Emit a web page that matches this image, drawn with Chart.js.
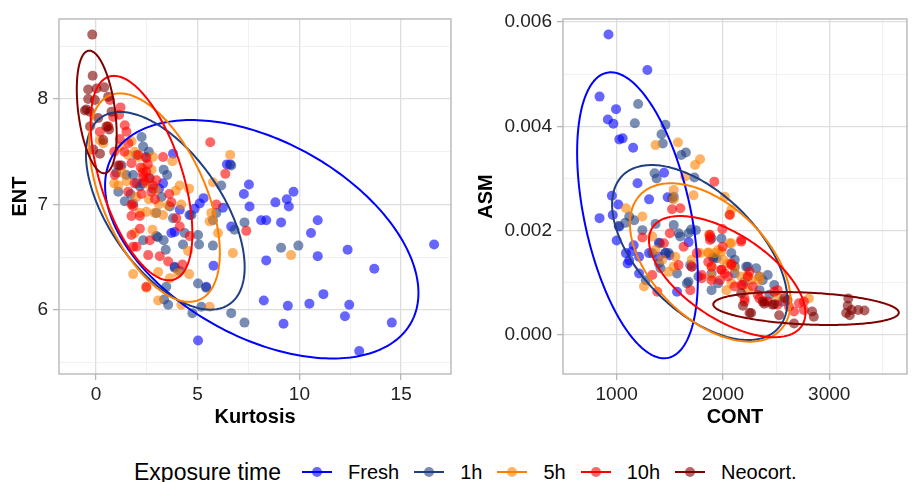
<!DOCTYPE html>
<html>
<head>
<meta charset="utf-8">
<script src="https://cdn.jsdelivr.net/npm/chart.js@4/dist/chart.umd.min.js"></script>
<style>
html, body { margin: 0; padding: 0; background: #fff; width: 912px; height: 482px; overflow: hidden; }
#c1 { position: absolute; left: 0; top: 0; }
#c2 { position: absolute; left: 456px; top: 0; }
#legend { position: absolute; left: 134px; top: 457px; height: 30px; display: flex; align-items: center;
  font-family: "Liberation Sans", Arial, Helvetica, sans-serif; color: #000; white-space: nowrap; }
#legend .title { font-size: 23px; margin-right: 21px; }
#legend .key { position: relative; width: 30px; height: 10px; margin-right: 16px; }
#legend .key .ln { position: absolute; left: 0; top: 4px; width: 30px; height: 2px; }
#legend .key .pt { position: absolute; left: 10px; top: 0; width: 10px; height: 10px; border-radius: 50%; }
#legend .lab { font-size: 20px; margin-right: 15px; }
</style>
</head>
<body>
<canvas id="c1" width="456" height="440"></canvas>
<canvas id="c2" width="456" height="440"></canvas>
<div id="legend"></div>
<script>
// ---------------- data ----------------
const groups = ['Fresh', '1h', '5h', '10h', 'Neocort.'];
const groupColors = ['#0000FF', '#203F82', '#FF8000', '#FF0000', '#800000'];
const legendTitle = 'Exposure time';

// Left panel: Kurtosis (x) vs ENT (y)
const kurtEntFresh = [[16.62,6.62],[13.68,6.39],[14.54,5.88],[12.94,5.61],[12.45,6.05],[12.24,5.94],[12.37,6.57],[11.18,6.15],[10.9,6.85],[10.9,6.51],[10.57,6.73],[10.49,6.06],[9.71,7.12],[9.38,7.05],[9.48,6.98],[8.82,7.02],[9.1,6.83],[9.43,6.04],[9.22,5.87],[8.37,6.85],[8.12,6.85],[8.37,6.47],[8.25,6.09],[7.52,7.19],[7.27,7.1],[7.55,6.98],[6.65,6.79],[6.44,7.38],[6.24,6.97],[5.78,6.42],[5.02,5.71],[5.42,6.22],[5.29,7.06],[5.1,7.01],[4.85,6.96],[3.79,7.48],[3.87,6.74],[3.71,6.73],[3.87,6.41],[3.3,7.2],[2.3,7.2],[4.12,6.95],[6.6,7.38],[3.1,7.15],[4.6,6.9]];
const kurtEnt1h = [[7.3,5.88],[6.65,5.97],[7.3,6.83],[6.81,6.76],[6.65,7.37],[9.1,6.59],[9.95,6.61],[5.75,6.61],[5.75,6.85],[5.92,6.92],[5.02,6.71],[5.07,6.62],[5.02,6.25],[5.18,6.03],[4.74,5.97],[4.28,6.62],[4.36,6.73],[3.87,6.4],[3.55,6.05],[3.35,6.1],[3.46,6.22],[3.43,6.57],[3.33,6.66],[2.97,6.7],[3.22,7.07],[3.5,7.28],[3.33,7.33],[2.65,7.25],[2.32,7.55],[2.24,7.64],[2.45,7.45],[1.99,7.47],[1.83,7.28],[1.5,7.28],[1.26,7.37],[1.42,7.03],[1.1,7.12],[1.83,7.01],[2.16,7.17],[2.32,6.66],[2.97,6.92],[3.63,6.98],[3.79,6.87],[6.16,7.18],[5.42,6.21],[4.12,6.37],[3.04,6.69],[4.69,6.9],[1.0,7.3],[2.0,7.2],[2.8,7.15],[1.7,7.1],[2.6,7.5]];
const kurtEnt5h = [[6.73,6.54],[6.6,7.47],[9.59,6.52],[5.59,6.03],[4.2,6.05],[3.06,6.09],[1.83,6.34],[2.48,6.21],[4.58,6.34],[4.04,6.35],[4.53,6.56],[6.0,6.73],[5.59,6.84],[5.75,7.21],[5.67,6.92],[4.58,7.15],[4.12,7.18],[4.2,7.0],[3.92,7.13],[3.76,7.41],[3.3,6.9],[2.89,6.92],[2.48,6.93],[2.16,6.92],[1.91,6.73],[1.5,7.22],[1.1,7.18],[1.58,7.47],[2.32,7.34],[2.73,7.33],[1.99,7.07],[2.97,7.14],[0.36,7.58],[0.6,7.74],[0.2,7.61],[1.75,7.6],[1.18,7.55],[2.48,7.2],[3.06,6.36],[3.63,6.3],[2.78,6.76],[3.55,6.99],[2.1,7.45],[1.9,7.5],[2.6,7.05],[3.1,7.0],[1.3,7.3],[2.8,7.45],[0.9,7.2]];
const kurtEnt10h = [[5.62,7.59],[6.36,7.29],[7.39,6.75],[5.92,7.0],[4.61,6.7],[4.25,6.43],[4.12,6.79],[3.71,7.02],[3.95,6.87],[3.55,6.46],[3.14,6.51],[2.57,6.52],[2.48,6.22],[1.99,6.6],[1.75,6.71],[2.16,6.77],[2.65,6.66],[1.83,6.6],[1.75,7.0],[1.58,7.12],[1.83,6.98],[2.32,7.26],[2.48,7.31],[2.4,7.22],[2.24,7.1],[2.73,7.12],[2.81,7.18],[2.48,7.44],[2.08,7.47],[3.3,7.45],[1.75,7.39],[1.18,7.37],[0.93,7.28],[1.18,7.62],[1.42,7.75],[1.5,7.69],[1.21,7.92],[1.14,7.85],[0.85,7.83],[0.6,7.74],[0.2,7.69],[2.16,6.89],[1.75,6.89],[2.97,7.23],[0.69,7.99],[2.3,7.3],[2.6,7.25],[2.2,7.35],[2.55,7.38],[1.9,7.2],[2.9,7.05],[3.6,7.1],[1.4,7.5],[1.6,7.58],[0.9,7.5]];
const kurtEntNeo = [[-0.18,8.61],[-0.16,8.22],[-0.38,8.09],[0.03,8.1],[0.41,8.11],[0.6,8.02],[-0.05,7.99],[-0.46,7.9],[-0.29,7.88],[0.11,7.82],[0.52,7.74],[0.65,7.71],[-0.29,7.74],[0.2,7.48],[-0.13,7.52],[0.36,7.61],[0.77,7.88],[1.09,7.37],[-0.38,8.0],[-0.54,7.89]];

// Right panel: CONT (x) vs ASM (y)
const contAsmFresh = [[923,0.00576],[839,0.00457],[917,0.00413],[994,0.00433],[969,0.00405],[1025,0.00375],[1056,0.00377],[1155,0.00359],[1196,0.00291],[1305,0.0026],[955,0.00267],[1015,0.0025],[963,0.0023],[839,0.00224],[1025,0.00208],[1000,0.00181],[1087,0.00157],[1143,0.0016],[1103,0.00137],[1118,0.00143],[1211,0.00118],[1211,0.0015],[1160,0.00172],[1397,0.00177],[1459,0.00157],[1568,0.00083],[1676,0.00178],[1289,0.00508],[1397,0.0015],[1480,0.00264],[1305,0.00157],[1446,0.00311],[1497,0.00153]];
const contAsm1h = [[1202,0.00443],[1171,0.00406],[1459,0.00403],[1422,0.00385],[1434,0.00367],[1608,0.00345],[1651,0.0035],[1732,0.00302],[1357,0.0031],[1376,0.003],[1537,0.00265],[1165,0.0022],[1118,0.00227],[1242,0.00201],[1366,0.00213],[1583,0.00195],[1676,0.00195],[1745,0.00201],[1598,0.00189],[1407,0.00176],[1490,0.00157],[1397,0.00137],[1413,0.00128],[1707,0.00131],[1676,0.00102],[1893,0.00185],[1986,0.00185],[2079,0.00157],[2219,0.00131],[2313,0.00128],[2421,0.00115],[2437,0.00077],[2344,0.00086],[2110,0.00118],[1955,0.00099],[1893,0.00086],[1274,0.00105],[1769,0.00112],[1568,0.00118],[1893,0.00118],[2203,0.00102],[2483,0.00096],[2374,0.00105],[1521,0.00262],[1081,0.00215],[1019,0.00209],[1537,0.00211],[1701,0.00202],[1335,0.00157],[1460,0.00157],[1692,0.00134],[1661,0.00099],[1909,0.0015],[2111,0.00131],[2234,0.00131],[1940,0.00147],[2560,0.00064],[1909,0.00147],[2111,0.00144],[2343,0.00112]];
const contAsm5h = [[1366,0.00364],[1577,0.00369],[1738,0.00326],[1785,0.00337],[1645,0.00304],[1537,0.00278],[1537,0.0026],[1723,0.00268],[1087,0.00243],[1242,0.00227],[2018,0.00265],[2079,0.0024],[1869,0.00192],[2079,0.00176],[1986,0.0016],[2002,0.00144],[1893,0.00131],[1707,0.00144],[1552,0.0015],[1366,0.00163],[1335,0.00189],[1257,0.00093],[2079,0.00099],[2172,0.00112],[2234,0.00086],[2265,0.00105],[2344,0.00112],[2514,0.00074],[2808,0.0007],[1428,0.00144],[1537,0.00131],[1785,0.00157],[1924,0.00157],[2048,0.00137],[2110,0.00128],[1893,0.00112],[1490,0.00121],[1862,0.00158],[2064,0.00231],[2064,0.00176],[1955,0.00163],[1862,0.00157],[2343,0.00105],[2234,0.00112],[2033,0.00086],[2607,0.00067]];
const contAsm10h = [[1919,0.00294],[1995,0.00203],[2064,0.0023],[1521,0.00241],[1599,0.00243],[1500,0.00195],[1242,0.00187],[1754,0.00157],[1878,0.00182],[1998,0.00169],[2172,0.00182],[2079,0.00137],[1986,0.00125],[1893,0.00105],[1693,0.00086],[1382,0.00083],[1335,0.00115],[1583,0.00134],[1707,0.00131],[1893,0.00131],[2048,0.00112],[2172,0.00096],[2281,0.00093],[2421,0.00064],[2514,0.00058],[2607,0.00067],[2669,0.00045],[2762,0.00048],[2762,0.00064],[2514,0.00086],[2234,0.00112],[2110,0.00093],[2203,0.00064],[2344,0.0007],[1630,0.00169],[1444,0.00176],[1800,0.00115],[2017,0.00118],[1878,0.00188],[1878,0.00192],[2172,0.00179],[1862,0.0014],[1986,0.00125],[1971,0.00105],[2079,0.00134],[2250,0.00121],[2188,0.00096],[2327,0.00077],[2390,0.00064],[2483,0.00083],[2622,0.00054],[2715,0.00061],[1800,0.00109],[2204,0.0007]];
const contAsmNeo = [[3180,0.0007],[3174,0.00056],[3211,0.00048],[3273,0.00048],[3332,0.00047],[3193,0.00038],[2839,0.00045],[2855,0.00035],[2669,0.00022],[2529,0.00038],[2483,0.00059],[2374,0.00064],[2250,0.00042],[2188,0.00056],[2579,0.00071],[2467,0.00058],[2390,0.0006],[2265,0.00042],[2172,0.0008],[3160,0.00042]];

// 95% ellipses per group (centre, half-range on each axis, correlation)
const kurtEntEllCx   = [8.15, 3.41, 2.88, 2.24, 0.04];
const kurtEntEllRx   = [7.7, 3.90, 3.21, 2.50, 0.98];
const kurtEntEllCy   = [6.67, 6.94, 7.065, 7.25, 7.877];
const kurtEntEllRy   = [1.13, 0.937, 0.988, 0.969, 0.581];
const kurtEntEllCorr = [-0.45, -0.57, -0.53, -0.54, -0.37];

const contAsmEllCx   = [1196, 1782, 1881, 2040, 2782];
const contAsmEllRx   = [568, 825, 756, 736, 873];
const contAsmEllCy   = [0.002295, 0.001581, 0.00139, 0.001119, 0.000508];
const contAsmEllRy   = [0.002741, 0.001677, 0.001518, 0.001162, 0.000316];
const contAsmEllCorr = [-0.44, -0.55, -0.49, -0.60, -0.25];

// axis ticks
const kurtMajor = [0, 5, 10, 15];
const kurtMinor = [2.5, 7.5, 12.5];
const entMajor = [6, 7, 8];
const entMinor = [5.5, 6.5, 7.5, 8.5];
const contMajor = [1000, 2000, 3000];
const contMinor = [1500, 2500, 3500];
const asmMajor = [0, 0.002, 0.004, 0.006];
const asmMinor = [0.001, 0.003, 0.005];

// ---------------- drawing ----------------
const FONT = '"Liberation Sans", Arial, Helvetica, sans-serif';
const ALPHA = 0.6;
function rgba(hex, a) {
  const n = parseInt(hex.slice(1), 16);
  return 'rgba(' + ((n >> 16) & 255) + ',' + ((n >> 8) & 255) + ',' + (n & 255) + ',' + a + ')';
}

const framePlugin = {
  id: 'frame',
  afterDatasetsDraw(chart, args, opts) {
    const ctx = chart.ctx, xs = chart.scales.x, ys = chart.scales.y, a = chart.chartArea;
    ctx.save();
    ctx.beginPath();
    ctx.rect(a.left, a.top, a.right - a.left, a.bottom - a.top);
    ctx.clip();
    ctx.lineWidth = 2;
    ctx.lineJoin = 'round';
    const e = opts.ellipses;
    for (let g = 0; g < e.cx.length; g++) {
      const c = e.corr[g], s = Math.sqrt(1 - c * c);
      ctx.beginPath();
      const N = 240;
      for (let i = 0; i <= N; i++) {
        const t = 2 * Math.PI * i / N;
        const vx = e.cx[g] + e.rx[g] * Math.cos(t);
        const vy = e.cy[g] + e.ry[g] * (c * Math.cos(t) + s * Math.sin(t));
        const px = xs.getPixelForValue(vx), py = ys.getPixelForValue(vy);
        if (i === 0) ctx.moveTo(px, py); else ctx.lineTo(px, py);
      }
      ctx.closePath();
      ctx.strokeStyle = groupColors[g];
      ctx.stroke();
    }
    ctx.restore();
  },
  afterDraw(chart) {
    const ctx = chart.ctx, a = chart.chartArea;
    ctx.save();
    ctx.strokeStyle = '#b3b3b3';
    ctx.lineWidth = 1.3;
    ctx.strokeRect(a.left, a.top, a.right - a.left, a.bottom - a.top);
    ctx.restore();
  }
};

function axis(opts) {
  const all = opts.major.concat(opts.minor).sort((p, q) => p - q);
  const isMajor = v => opts.major.indexOf(v) >= 0;
  return {
    type: 'linear',
    position: opts.position,
    min: opts.min, max: opts.max,
    afterBuildTicks: s => { s.ticks = all.map(v => ({ value: v })); },
    afterFit: s => { if (opts.width) s.width = opts.width; if (opts.height) s.height = opts.height; },
    ticks: {
      autoSkip: false, maxRotation: 0, minRotation: 0,
      padding: opts.tickPad,
      color: '#222',
      font: { family: FONT, size: 19 },
      callback: v => isMajor(v) ? opts.fmt(v) : ''
    },
    grid: {
      drawTicks: true, tickLength: 6, tickWidth: 1.2,
      color: ctx => (ctx.tick && isMajor(ctx.tick.value)) ? '#dedede' : '#ebebeb',
      lineWidth: ctx => (ctx.tick && isMajor(ctx.tick.value)) ? 1.3 : 0.7,
      tickColor: ctx => (ctx.tick && isMajor(ctx.tick.value)) ? '#b3b3b3' : 'rgba(0,0,0,0)'
    },
    border: { display: false },
    title: {
      display: true, text: opts.title, color: '#000',
      font: { family: FONT, size: 20, weight: 'bold' },
      padding: opts.titlePad
    }
  };
}

function makeChart(id, sets, ell, xOpts, yOpts, padRight) {
  return new Chart(document.getElementById(id), {
    type: 'scatter',
    data: {
      datasets: sets.map((pts, g) => ({
        label: groups[g],
        data: pts.map(p => ({ x: p[0], y: p[1] })),
        backgroundColor: rgba(groupColors[g], ALPHA),
        borderWidth: 0,
        pointRadius: 5,
        pointHoverRadius: 5,
        order: sets.length - g
      }))
    },
    options: {
      responsive: false,
      animation: false,
      events: [],
      layout: { padding: { top: 19, right: padRight, left: 0, bottom: 0 } },
      plugins: {
        legend: { display: false },
        tooltip: { enabled: false },
        frame: { ellipses: ell }
      },
      scales: { x: axis(xOpts), y: axis(yOpts) }
    },
    plugins: [framePlugin]
  });
}

makeChart('c1',
  [kurtEntFresh, kurtEnt1h, kurtEnt5h, kurtEnt10h, kurtEntNeo],
  { cx: kurtEntEllCx, rx: kurtEntEllRx, cy: kurtEntEllCy, ry: kurtEntEllRy, corr: kurtEntEllCorr },
  { position: 'bottom', min: -1.814, max: 17.45, major: kurtMajor, minor: kurtMinor, fmt: v => String(v),
    title: 'Kurtosis', height: 66, tickPad: 3, titlePad: { top: 0, bottom: 11 } },
  { position: 'left', min: 5.393, max: 8.758, major: entMajor, minor: entMinor, fmt: v => String(v),
    title: 'ENT', width: 59, tickPad: 5, titlePad: { top: 8, bottom: 0 } },
  4);

makeChart('c2',
  [contAsmFresh, contAsm1h, contAsm5h, contAsm10h, contAsmNeo],
  { cx: contAsmEllCx, rx: contAsmEllRx, cy: contAsmEllCy, ry: contAsmEllRy, corr: contAsmEllCorr },
  { position: 'bottom', min: 495, max: 3732, major: contMajor, minor: contMinor, fmt: v => String(v),
    title: 'CONT', height: 66, tickPad: 3, titlePad: { top: 0, bottom: 11 } },
  { position: 'left', min: -0.000748, max: 0.006058, major: asmMajor, minor: asmMinor, fmt: v => v.toFixed(3),
    title: 'ASM', width: 107, tickPad: 5, titlePad: { top: 18, bottom: 0 } },
  1);

// legend (HTML text)
const leg = document.getElementById('legend');
const t = document.createElement('span');
t.className = 'title'; t.textContent = legendTitle; leg.appendChild(t);
groups.forEach((name, g) => {
  const key = document.createElement('div'); key.className = 'key';
  const ln = document.createElement('div'); ln.className = 'ln'; ln.style.background = groupColors[g];
  const pt = document.createElement('div'); pt.className = 'pt'; pt.style.background = rgba(groupColors[g], ALPHA);
  key.appendChild(ln); key.appendChild(pt);
  const lab = document.createElement('span'); lab.className = 'lab'; lab.textContent = name;
  leg.appendChild(key); leg.appendChild(lab);
});
</script>
</body>
</html>
